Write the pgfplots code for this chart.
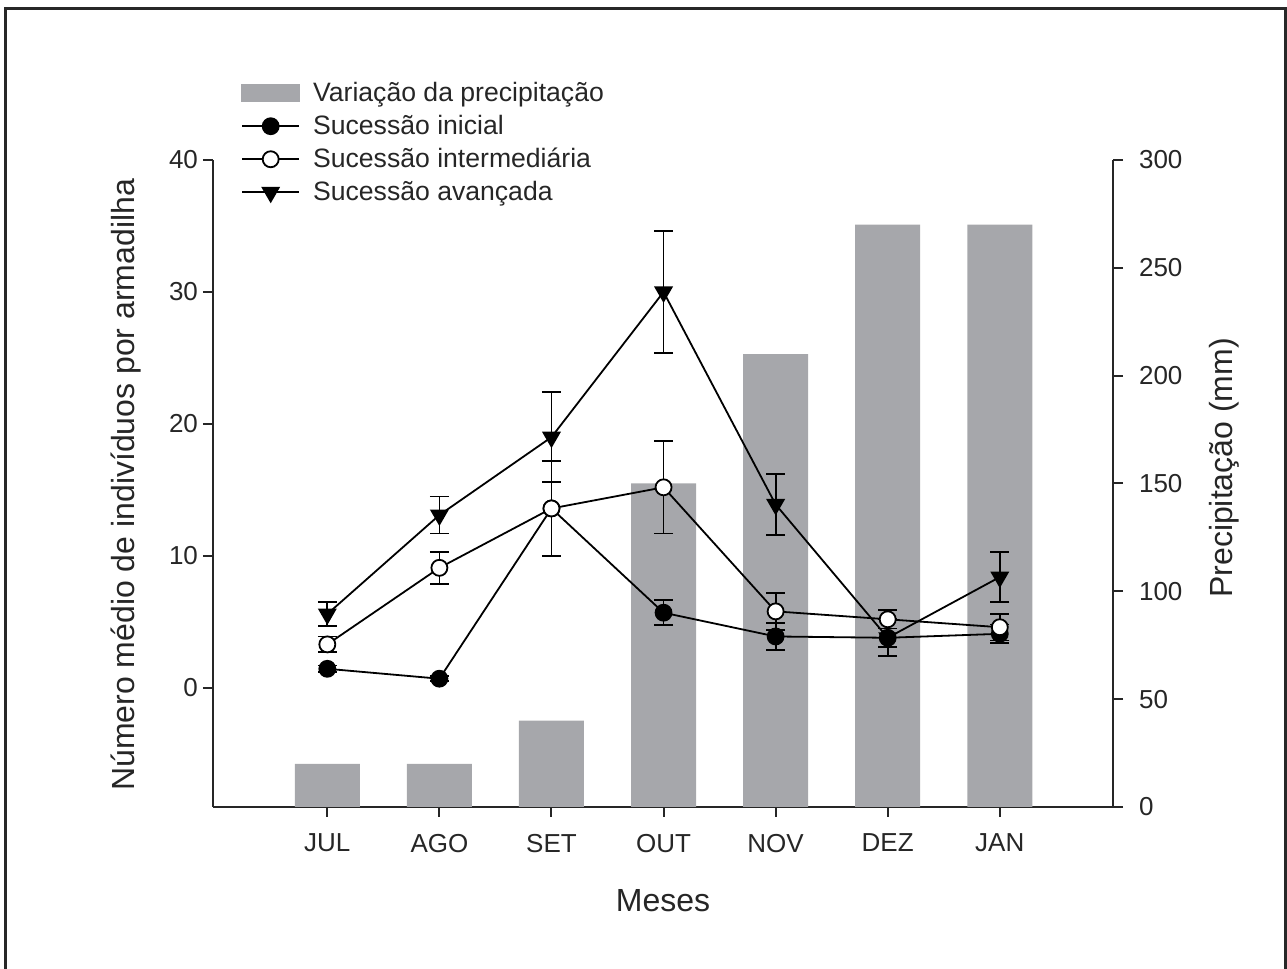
\documentclass[border=0pt]{standalone}
\usepackage{pgfplots}
\pgfplotsset{compat=1.18}
\usepackage{fontspec}
\setmainfont{Liberation Sans}
\definecolor{barcol}{RGB}{166,167,171}
\definecolor{framecol}{RGB}{40,40,40}
\begin{document}
\begin{tikzpicture}
\path[use as bounding box] (0,0) rectangle (643.5pt,484.5pt);
\draw[line width=1.5pt, framecol] (2.5pt,0pt) -- (2.5pt,480pt) -- (642.5pt,480pt) -- (642.5pt,0pt);
% bars, right axis
\begin{axis}[
  at={(106.5pt,81pt)}, anchor=south west,
  scale only axis, width=450pt, height=323.5pt,
  xmin=-1.02, xmax=7.01, ymin=0, ymax=300,
  axis x line*=bottom, axis y line*=right,
  axis line style={line width=1pt, black!85},
  tick style={line width=1pt, black!85},
  tick align=outside, major tick length=5pt,
  xtick={0,...,6}, xticklabels={JUL,AGO,SET,OUT,NOV,DEZ,JAN},
  ytick={0,50,...,300},
  /pgf/number format/assume math mode=true,
  ticklabel style={font=\fontsize{13}{15}\selectfont, black!85},
  xticklabel style={yshift=-5pt},
  yticklabel style={xshift=4.5pt},
  xlabel={Meses}, ylabel={Precipitação (mm)},
  label style={font=\fontsize{16}{19}\selectfont, black!85},
  xlabel style={at={(axis description cs:0.5,-0.144)}, anchor=center},
  ylabel style={at={(axis description cs:1.124,0.524)}, anchor=center},
]
\addplot[ybar, bar width=32.5pt, fill=barcol, draw=none] coordinates {
(0,20) (1,20) (2,40) (3,150) (4,210) (5,270) (6,270)};
\end{axis}
% lines, left axis
\begin{axis}[
  at={(106.5pt,81pt)}, anchor=south west,
  scale only axis, width=450pt, height=323.5pt,
  xmin=-1.02, xmax=7.01, ymin=-9.02, ymax=40,
  axis x line=none, axis y line*=left,
  axis line style={line width=1pt, black!85},
  tick style={line width=1pt, black!85},
  tick align=outside, major tick length=5pt,
  ytick={0,10,...,40},
  /pgf/number format/assume math mode=true,
  ticklabel style={font=\fontsize{13}{15}\selectfont, black!85},
  yticklabel style={xshift=1pt},
  ylabel={Número médio de indivíduos por armadilha},
  label style={font=\fontsize{16}{19}\selectfont, black!85},
  ylabel style={at={(axis description cs:-0.0967,0.498)}, anchor=center},
  legend style={at={(axis description cs:0.031,1.127)}, anchor=north west,
    draw=none, fill=none, font=\fontsize{13.3}{16.5}\selectfont, text=black!85,
    row sep=1.3pt, inner sep=0pt,
    nodes={inner xsep=6.5pt}},
  legend cell align=left,
  legend image code/.code={\draw[mark repeat=2,mark phase=2,#1] plot coordinates {(0pt,0pt) (14.25pt,0pt) (28.5pt,0pt)};},
  every axis plot/.append style={line width=0.9pt, black},
  error bars/error bar style={line width=0.9pt, black},
  error bars/error mark options={rotate=90, mark size=4.75pt, line width=0.9pt, black},
]
\addlegendimage{legend image code/.code={\fill[barcol] (0pt,-4pt) rectangle (28.5pt,4pt);}}
\addlegendentry{Variação da precipitação}
\addplot[mark=*, mark size=4pt, mark options={fill=black, solid},
  error bars/.cd, y dir=both, y explicit] table[x=x, y=y, y error=e] {
x y e
0 1.45 0.25
1 0.7 0.2
2 13.6 3.6
3 5.7 0.95
4 3.9 1.0
5 3.8 0.7
6 4.1 0.7
};
\addlegendentry{Sucessão inicial}
\addplot[mark=*, mark size=4pt, mark options={fill=white, solid},
  error bars/.cd, y dir=both, y explicit] table[x=x, y=y, y error=e] {
x y e
0 3.3 0.6
1 9.1 1.2
2 13.6 3.6
3 15.2 3.5
4 5.8 1.4
5 5.2 0.7
6 4.6 1.0
};
\addlegendentry{Sucessão intermediária}
\addplot[mark=triangle*, mark size=4.6pt, mark options={fill=black, solid, rotate=180},
  error bars/.cd, y dir=both, y explicit] table[x=x, y=y, y error=e] {
x y e
0 5.6 0.9
1 13.1 1.4
2 19.0 3.4
3 30.0 4.6
4 13.9 2.3
5 3.8 1.4
6 8.4 1.9
};
\addlegendentry{Sucessão avançada}
\end{axis}
\end{tikzpicture}
\end{document}
